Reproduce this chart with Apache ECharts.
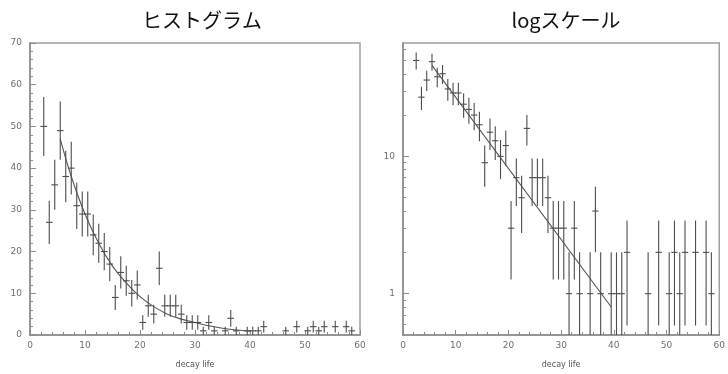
<!DOCTYPE html>
<html>
<head>
<meta charset="utf-8">
<script src="https://cdn.jsdelivr.net/npm/echarts@6/dist/echarts.min.js"></script>
<style>
  html, body { margin: 0; padding: 0; background: #ffffff; }
  #chart { width: 728px; height: 374px; }
</style>
</head>
<body>
<div id="chart"></div>
<script>
// Decay-time histogram: bin centres and counts per unit-width bin
const binCenters = [
  2.5, 3.5, 4.5, 5.5, 6.5, 7.5, 8.5, 9.5, 10.5, 11.5,
  12.5, 13.5, 14.5, 15.5, 16.5, 17.5, 18.5, 19.5, 20.5, 21.5,
  22.5, 23.5, 24.5, 25.5, 26.5, 27.5, 28.5, 29.5, 30.5, 31.5,
  32.5, 33.5, 35.5, 36.5, 37.5, 39.5, 40.5, 41.5, 42.5, 46.5,
  48.5, 50.5, 51.5, 52.5, 53.5, 55.5, 57.5, 58.5
];
const counts = [
  50, 27, 36, 49, 38, 40, 31, 29, 29, 24,
  22, 20, 17, 9, 15, 13, 10, 12, 3, 7,
  5, 16, 7, 7, 7, 5, 3, 3, 3, 1,
  3, 1, 1, 4, 1, 1, 1, 1, 2, 1,
  2, 1, 2, 1, 2, 2, 2, 1
];

// Exponential fit curve, sampled along the linear panel
const fitX = [5.5, 7.5, 10, 12.5, 15, 17.5, 20, 22.5, 25, 27.5, 30, 32.5, 35, 37.5, 40];
const fitY = [47, 38, 29, 22, 16.5, 12.5, 9.2, 6.8, 5, 3.8, 3, 2.2, 1.6, 1.2, 0.9];

// Same fit on the log panel (a straight line between its end points)
const logFitX = [5.5, 39.5];
const logFitY = [46, 0.8];

// Tick values of the log axis
const logMajorTicks = [1, 10];
const logMinorTicks = [0.6, 0.7, 0.8, 0.9, 2, 3, 4, 5, 6, 7, 8, 9, 20, 30, 40, 50, 60];

const LOG_MIN = 0.5;
const LOG_MAX = 67;

const axisGray = '#8c8c8c';
const labelGray = '#6e6e6e';
const markColor = '#4d4d4d';

function errorBars(isLog) {
  return function (params, api) {
    const x = api.value(0);
    const n = api.value(1);
    const err = Math.sqrt(n);
    let lo = n - err;
    const hi = n + err;
    if (isLog) lo = Math.max(lo, LOG_MIN);
    const pLo = api.coord([x, lo]);
    const pHi = api.coord([x, hi]);
    const pL = api.coord([x - 0.6, n]);
    const pR = api.coord([x + 0.6, n]);
    const style = { stroke: markColor, lineWidth: 1.1 };
    return {
      type: 'group',
      children: [
        { type: 'line', shape: { x1: pLo[0], y1: pLo[1], x2: pHi[0], y2: pHi[1] }, style: style },
        { type: 'line', shape: { x1: pL[0], y1: pL[1], x2: pR[0], y2: pR[1] }, style: style }
      ]
    };
  };
}

const histData = binCenters.map((c, i) => [c, counts[i]]);
const fitData = fitX.map((x, i) => [x, fitY[i]]);
const logFitData = logFitX.map((x, i) => [x, logFitY[i]]);

function xAxisFor(gridIndex) {
  return {
    type: 'value', gridIndex: gridIndex, min: 0, max: 60, interval: 10,
    name: 'decay life', nameLocation: 'middle', nameGap: 26,
    nameTextStyle: { fontSize: 8, color: '#555', fontFamily: 'DejaVu Sans' },
    axisLine: { show: true, lineStyle: { color: axisGray, width: 1.5 } },
    axisTick: { show: true, inside: true, length: 5, lineStyle: { color: axisGray } },
    minorTick: { show: true, splitNumber: 5, length: 3, lineStyle: { color: axisGray } },
    axisLabel: { fontSize: 9, color: labelGray, margin: 6, fontFamily: 'DejaVu Sans' },
    splitLine: { show: false }, minorSplitLine: { show: false }
  };
}

const titleStyle = { fontSize: 20, fontWeight: 'normal', color: '#111', fontFamily: 'Noto Sans CJK JP' };

const chart = echarts.init(document.getElementById('chart'), null, { renderer: 'canvas' });

chart.setOption({
  animation: false,
  backgroundColor: '#ffffff',
  title: [
    { text: 'ヒストグラム', left: 197, top: 5, textAlign: 'center', textStyle: titleStyle },
    { text: 'logスケール', left: 561, top: 5, textAlign: 'center', textStyle: titleStyle }
  ],
  grid: [
    { left: 30, top: 43, width: 330, height: 298, show: true, borderColor: '#a0a0a0', borderWidth: 1.5, containLabel: false },
    { left: 403, top: 43, width: 330, height: 297, show: true, borderColor: '#a0a0a0', borderWidth: 1.5, containLabel: false }
  ],
  xAxis: [xAxisFor(0), xAxisFor(1)],
  yAxis: [
    {
      type: 'value', gridIndex: 0, min: 0, max: 70, interval: 10,
      axisLine: { show: true, lineStyle: { color: axisGray, width: 1.5 } },
      axisTick: { show: true, inside: true, length: 6, lineStyle: { color: axisGray } },
      minorTick: { show: true, splitNumber: 5, length: 3, lineStyle: { color: axisGray } },
      axisLabel: { fontSize: 9, color: labelGray, margin: 8, fontFamily: 'DejaVu Sans' },
      splitLine: { show: false }, minorSplitLine: { show: false }
    },
    {
      type: 'log', logBase: 10, gridIndex: 1, min: LOG_MIN, max: LOG_MAX, position: 'left',
      axisLine: { show: true, lineStyle: { color: axisGray, width: 1.5 } },
      axisTick: { show: true, inside: true, length: 6, customValues: logMajorTicks, lineStyle: { color: axisGray } },
      axisLabel: { fontSize: 9, color: labelGray, margin: 8, customValues: logMajorTicks, fontFamily: 'DejaVu Sans' },
      splitLine: { show: false }
    },
    {
      type: 'log', logBase: 10, gridIndex: 1, min: LOG_MIN, max: LOG_MAX, position: 'left', offset: 0,
      axisLine: { show: false },
      axisTick: { show: true, inside: true, length: 3, customValues: logMinorTicks, lineStyle: { color: axisGray } },
      axisLabel: { show: false },
      splitLine: { show: false }
    }
  ],
  series: [
    {
      type: 'custom', xAxisIndex: 0, yAxisIndex: 0, clip: true,
      renderItem: errorBars(false), data: histData, z: 3
    },
    {
      type: 'line', xAxisIndex: 0, yAxisIndex: 0, data: fitData, smooth: 0.4,
      showSymbol: false, lineStyle: { color: '#555', width: 1.1 }, z: 2
    },
    {
      type: 'custom', xAxisIndex: 1, yAxisIndex: 1, clip: true,
      renderItem: errorBars(true), data: histData, z: 3
    },
    {
      type: 'line', xAxisIndex: 1, yAxisIndex: 1, data: logFitData,
      showSymbol: false, lineStyle: { color: '#555', width: 1.1 }, z: 2
    }
  ]
});
</script>
</body>
</html>
